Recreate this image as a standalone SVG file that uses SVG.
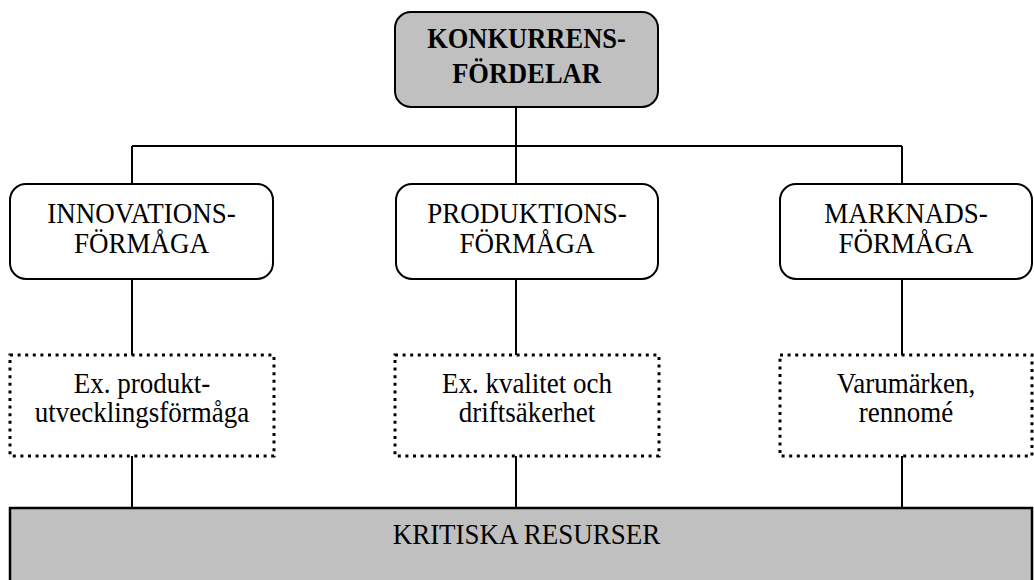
<svg xmlns="http://www.w3.org/2000/svg" width="1034" height="580" viewBox="0 0 1034 580">
  <style>
    .box { fill: #ffffff; stroke: #000000; stroke-width: 2; }
    .top { fill: #c0c0c0; stroke: #000000; stroke-width: 2; }
    .dot { fill: #ffffff; stroke: #000000; stroke-width: 3; stroke-dasharray: 3 4.6; }
    .base { fill: #c0c0c0; stroke: #000000; stroke-width: 2.5; }
    .wire { fill: none; stroke: #000000; stroke-width: 2; }
    text { font-family: "Liberation Serif", "Times New Roman", serif; font-size: 27px; fill: #000000; text-anchor: middle; }
    .b { font-weight: bold; font-size: 26.5px; }
  </style>

  <!-- connectors -->
  <g id="connectors">
    <path class="wire" d="M516 107 V146 M132 146 H902 M132 146 V184 M516 146 V184 M902 146 V184"/>
    <path class="wire" d="M132 279 V355 M516 279 V355 M902 279 V355"/>
    <path class="wire" d="M132 456 V508 M516 456 V508 M902 456 V508"/>
  </g>

  <!-- root -->
  <g id="konkurrensfordelar">
    <rect class="top" x="395" y="12" width="263" height="95" rx="16"/>
    <text class="b" transform="translate(526.5,48) scale(1,1.1)">KONKURRENS-</text>
    <text class="b" transform="translate(526.5,83) scale(1,1.1)">FÖRDELAR</text>
  </g>

  <!-- capabilities -->
  <g id="innovationsformaga">
    <rect class="box" x="10" y="184" width="263" height="95" rx="16"/>
    <text transform="translate(141.5,223) scale(1,1.1)">INNOVATIONS-</text>
    <text transform="translate(141.5,253) scale(1,1.1)">FÖRMÅGA</text>
  </g>
  <g id="produktionsformaga">
    <rect class="box" x="396" y="184" width="262" height="95" rx="16"/>
    <text transform="translate(527,223) scale(1,1.1)">PRODUKTIONS-</text>
    <text transform="translate(527,253) scale(1,1.1)">FÖRMÅGA</text>
  </g>
  <g id="marknadsformaga">
    <rect class="box" x="780" y="184" width="252" height="95" rx="16"/>
    <text transform="translate(906,223) scale(1,1.1)">MARKNADS-</text>
    <text transform="translate(906,253) scale(1,1.1)">FÖRMÅGA</text>
  </g>

  <!-- examples -->
  <g id="ex-produktutveckling">
    <rect class="dot" x="10" y="355" width="264" height="101"/>
    <text transform="translate(142,393) scale(1,1.1)">Ex. produkt-</text>
    <text transform="translate(142,422) scale(1,1.1)">utvecklingsförmåga</text>
  </g>
  <g id="ex-kvalitet">
    <rect class="dot" x="395" y="355" width="264" height="101"/>
    <text transform="translate(527,393) scale(1,1.1)">Ex. kvalitet och</text>
    <text transform="translate(527,422) scale(1,1.1)">driftsäkerhet</text>
  </g>
  <g id="varumarken">
    <rect class="dot" x="780" y="355" width="252" height="101"/>
    <text transform="translate(906,393) scale(1,1.1)">Varumärken,</text>
    <text transform="translate(906,422) scale(1,1.1)">rennomé</text>
  </g>

  <!-- resources -->
  <g id="kritiska-resurser">
    <rect class="base" x="10" y="508" width="1022" height="80"/>
    <text transform="translate(526.5,544) scale(1,1.1)">KRITISKA RESURSER</text>
  </g>
</svg>
